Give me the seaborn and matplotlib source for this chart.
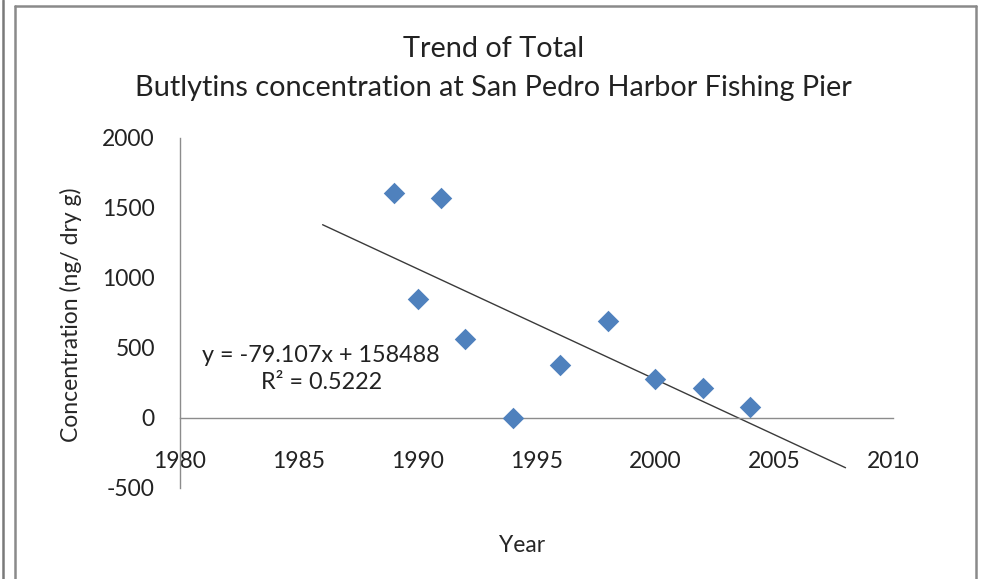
import numpy as np
import pandas as pd
import matplotlib.pyplot as plt
from matplotlib.lines import Line2D
import seaborn as sns

YEARS = [1989, 1990, 1991, 1992, 1994, 1996, 1998, 2000, 2002, 2004]
CONCENTRATION = [1610, 850, 1570, 565, 0, 375, 690, 280, 215, 75]
TREND_RANGE = [1986, 2008]
X_TICKS = [1980, 1985, 1990, 1995, 2000, 2005, 2010]
Y_TICKS = [-500, 0, 500, 1000, 1500, 2000]
TITLE = "Trend of Total\nButlytins concentration at San Pedro Harbor Fishing Pier"
EQ_TEXT = "y = -79.107x + 158488\nR\u00b2 = 0.5222"

BLUE = "#4F81BD"
AXIS_GREY = "#8c8c8c"
FONT = ["Lato", "DejaVu Sans"]

sns.set_theme(style="white")
plt.rcParams["font.family"] = FONT
plt.rcParams["text.color"] = "#222222"
plt.rcParams["axes.unicode_minus"] = False

df = pd.DataFrame({"year": YEARS, "conc": CONCENTRATION})

fig = plt.figure(figsize=(9.83, 5.79), dpi=100)
ax = fig.add_axes([0.1831, 0.1572, 0.7254, 0.6045])

sns.scatterplot(
    data=df, x="year", y="conc", ax=ax, marker="D", s=120,
    color=BLUE, edgecolor=BLUE, linewidth=0, zorder=3,
)

# linear trendline, extended a bit both ways like Excel's forecast
slope, intercept = np.polyfit(df["year"], df["conc"], 1)
tx = np.array(TREND_RANGE, dtype=float)
ax.plot(tx, slope * tx + intercept, color="#3a3a3a", lw=1.0, zorder=2)

ax.set_xlim(1980, 2010)
ax.set_ylim(-500, 2000)
ax.set_xticks(X_TICKS)
ax.set_yticks(Y_TICKS)

for side in ["top", "right"]:
    ax.spines[side].set_visible(False)
ax.spines["bottom"].set_position(("data", 0))
for side in ["bottom", "left"]:
    ax.spines[side].set_color(AXIS_GREY)
    ax.spines[side].set_linewidth(1.0)

ax.tick_params(axis="x", length=0, pad=24, labelsize=16.5, colors="#222222")
ax.tick_params(axis="y", length=0, pad=18, labelsize=16.5, colors="#222222")

ax.set_xlabel("Year", fontsize=16.5)
ax.set_ylabel("Concentration (ng/ dry g)", fontsize=16.5)
ax.xaxis.set_label_coords(0.48, -0.134)
ax.yaxis.set_label_coords(-0.137, 0.494)

ax.text(0.198, 0.34, EQ_TEXT, transform=ax.transAxes, ha="center",
        va="center", fontsize=16.8, linespacing=1.3)

fig.text(0.502, 0.882, TITLE, ha="center", va="center", fontsize=20.8,
         linespacing=1.6)

# chart frame and outer border
W, H = 983, 579
def fig_line(x0, y0, x1, y1, color, lw):
    fig.add_artist(Line2D([x0 / W, x1 / W], [1 - y0 / H, 1 - y1 / H],
                          transform=fig.transFigure, color=color, lw=lw))

fig_line(3, 0, 3, H, "#7a7a7a", 1.8)
fig_line(15, 6, 15, H, "#8a8a8a", 1.8)
fig_line(15, 6, 976, 6, "#8a8a8a", 1.8)
fig_line(976, 6, 976, H, "#8a8a8a", 1.8)

fig.savefig("out.png", dpi=100)
